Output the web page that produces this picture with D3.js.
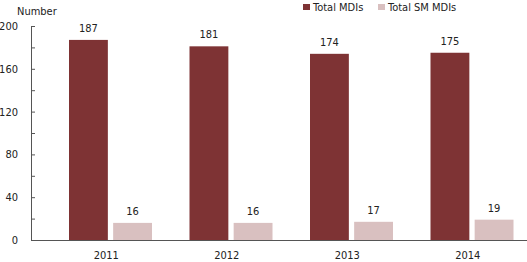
<!DOCTYPE html>
<html>
<head>
<meta charset="utf-8">
<script src="https://cdn.jsdelivr.net/npm/d3@7"></script>
<style>
  html, body { margin: 0; padding: 0; background: #fff; }
  svg { display: block; }
  text { font-family: "Liberation Sans Narrow", "Arial Narrow", "DejaVu Sans Condensed", sans-serif; fill: #222; }
</style>
</head>
<body>
<svg id="chart" width="527" height="262"></svg>
<script>
const years = ["2011", "2012", "2013", "2014"];
const seriesNames = ["Total MDIs", "Total SM MDIs"];
const totalMDIs = [187, 181, 174, 175];
const totalSMMDIs = [16, 16, 17, 19];
const yTicks = [0, 40, 80, 120, 160, 200];
const yMinorTicks = [20, 60, 100, 140, 180];
const colors = ["#7e3334", "#d9c0c0"];

const data = years.map((y, i) => ({ year: y, values: [totalMDIs[i], totalSMMDIs[i]] }));

const svg = d3.select("#chart");
const axisX = 31, baseY = 240, topY = 26;

const y = d3.scaleLinear().domain([0, 200]).range([baseY, topY]);
const x0 = d3.scaleBand().domain(years).range([46, 528]);
const x1 = d3.scaleBand().domain(seriesNames).range([23, 106]).paddingInner(0.12);
const color = d3.scaleOrdinal().domain(seriesNames).range(colors);

// bars
const g = svg.append("g");
const groups = g.selectAll("g.year").data(data).enter().append("g")
  .attr("transform", d => `translate(${x0(d.year)},0)`);
groups.selectAll("rect").data(d => d.values.map((v, i) => ({ name: seriesNames[i], v })))
  .enter().append("rect")
  .attr("x", d => x1(d.name))
  .attr("width", x1.bandwidth())
  .attr("y", d => y(d.v))
  .attr("height", d => baseY - y(d.v))
  .attr("fill", d => color(d.name));
groups.selectAll("text.val").data(d => d.values.map((v, i) => ({ name: seriesNames[i], v })))
  .enter().append("text")
  .attr("class", "val")
  .attr("x", d => x1(d.name) + x1.bandwidth() / 2)
  .attr("y", d => y(d.v) - 8)
  .attr("text-anchor", "middle")
  .attr("font-size", 11)
  .text(d => d.v);

// y axis
const yAxis = d3.axisRight(y).tickValues(yTicks.concat(yMinorTicks)).tickSize(4).tickFormat("");
const ya = svg.append("g").attr("transform", `translate(${axisX},0)`).call(yAxis);
ya.select(".domain").remove();
ya.selectAll("line").attr("stroke", "#555");
svg.append("line").attr("x1", axisX + 0.5).attr("x2", axisX + 0.5)
  .attr("y1", y(200)).attr("y2", baseY).attr("stroke", "#555");
svg.selectAll("text.ytl").data(yTicks).enter().append("text")
  .attr("class", "ytl")
  .attr("x", 18).attr("y", d => y(d))
  .attr("dy", "0.36em")
  .attr("text-anchor", "end")
  .attr("font-size", 11)
  .text(d => d);

// x axis
svg.append("line").attr("x1", axisX).attr("x2", 527)
  .attr("y1", baseY + 0.5).attr("y2", baseY + 0.5).attr("stroke", "#555");
svg.selectAll("text.xtl").data(years).enter().append("text")
  .attr("class", "xtl")
  .attr("x", d => x0(d) + x0.bandwidth() / 2)
  .attr("y", 259)
  .attr("text-anchor", "middle")
  .attr("font-size", 11)
  .text(d => d);

// y title
svg.append("text").attr("x", 17).attr("y", 15).attr("font-size", 11).text("Number");

// legend
const legX = [303, 378];
const leg = svg.selectAll("g.leg").data(seriesNames).enter().append("g")
  .attr("transform", (d, i) => `translate(${legX[i]},0)`);
leg.append("rect").attr("x", 0).attr("y", 4).attr("width", 7).attr("height", 6)
  .attr("fill", d => color(d));
leg.append("text").attr("x", 10).attr("y", 10.5).attr("font-size", 11).text(d => d);
</script>
</body>
</html>
